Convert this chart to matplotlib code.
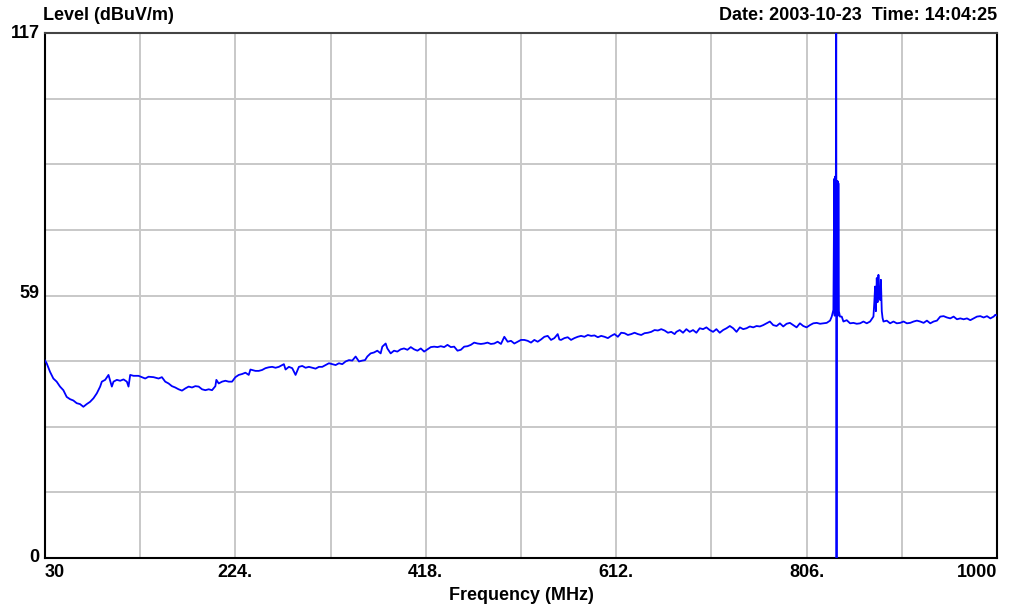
import matplotlib
matplotlib.use("Agg")
import matplotlib.pyplot as plt
import numpy as np

# scan trace: frequency (MHz) / level (dBuV/m)
freq_low = [30.0, 31.7, 35.1, 38.5, 41.9, 45.3, 48.7, 52.1, 55.5, 58.9, 62.3, 65.7, 69.1,
            72.5, 75.9, 79.4, 82.8, 86.2, 87.9, 91.3, 94.7, 98.1, 99.8, 103.2, 106.6,
            110.0, 113.4, 115.1, 116.8, 120.2, 125.3, 128.7, 132.1, 135.5, 140.6, 145.7,
            149.1, 152.5, 155.9, 159.3, 162.7, 166.1, 169.6, 173.0, 176.4, 179.8, 183.2,
            186.6, 190.0, 193.4, 196.8, 200.2, 203.6, 204.6, 207.0, 210.4, 213.8, 217.2,
            220.6, 224.0, 227.4, 230.8, 234.2, 237.6, 239.3, 244.4, 247.8, 251.2, 254.6,
            258.0, 261.5, 264.9, 268.3, 271.7, 273.4, 275.1, 278.5, 281.9, 285.3, 288.7,
            292.1, 295.5, 298.9, 302.3, 305.7, 309.1, 312.5, 315.9, 319.3, 322.7, 326.1,
            329.5, 332.9, 336.3, 339.7, 343.1, 346.5, 349.9, 353.4, 356.1]
level_low = [44.0, 43.4, 41.5, 40.0, 39.3, 38.2, 37.4, 35.9, 35.4, 35.1, 34.5, 34.3, 33.7,
             34.3, 34.8, 35.6, 36.7, 38.2, 39.3, 39.7, 40.8, 38.2, 39.3, 39.7, 39.5,
             39.8, 39.3, 38.2, 40.8, 40.6, 40.6, 40.3, 40.0, 40.4, 40.3, 40.0,
             40.3, 39.3, 38.9, 38.3, 38.0, 37.6, 37.3, 37.8, 38.2, 38.0, 38.3,
             38.2, 37.6, 37.4, 37.6, 37.4, 38.3, 39.7, 38.9, 39.3, 39.5, 39.3,
             39.3, 40.3, 40.8, 41.0, 41.3, 40.8, 42.0, 41.7, 41.7, 41.9, 42.3,
             42.5, 42.6, 42.4, 42.6, 43.0, 43.2, 42.0, 42.6, 42.3, 40.8, 42.6,
             42.8, 42.4, 42.6, 42.4, 42.2, 42.6, 42.6, 43.0, 43.4, 43.2, 43.0,
             43.4, 43.2, 43.8, 44.1, 44.0, 44.9, 43.8, 44.0, 44.1]

freq_mid = [358.4, 361.8, 365.2, 368.6, 372.0, 373.7, 377.1, 378.8, 382.2, 385.6, 389.0,
            392.4, 395.8, 399.3, 402.7, 406.1, 409.5, 412.9, 416.3, 419.7, 423.1, 426.5,
            429.9, 433.3, 436.7, 440.1, 443.5, 446.9, 450.3, 453.7, 457.1, 460.5, 463.9,
            467.3, 470.7, 474.1, 477.5, 480.9, 484.3, 487.7, 491.2, 494.6, 498.0, 501.4,
            504.8, 508.2, 511.6, 515.0, 518.4, 521.8, 525.2, 528.6, 532.0, 535.4, 538.8,
            542.2, 545.6, 549.0, 552.4, 554.1, 555.8, 559.2, 562.6, 566.0, 569.4, 572.8,
            576.2, 579.6, 583.1, 586.5, 589.9, 593.3, 596.7, 600.1, 603.5, 606.9, 610.3,
            613.7, 617.1, 620.5, 623.9, 627.3, 630.7, 634.1, 637.5, 640.9, 644.3, 647.7,
            651.1, 654.5, 657.9, 661.3, 664.7, 668.1, 671.5]
level_mid = [44.9, 45.6, 45.8, 46.2, 45.6, 47.1, 47.8, 46.7, 45.6, 46.2, 46.0,
             46.5, 46.7, 46.4, 47.0, 46.5, 46.2, 46.7, 46.0, 46.5, 47.0, 47.1,
             47.0, 47.2, 47.0, 47.5, 47.0, 47.1, 46.2, 46.4, 47.1, 47.2, 47.5,
             48.0, 47.8, 47.7, 47.8, 48.0, 47.7, 47.8, 48.2, 47.7, 49.3, 48.2,
             48.4, 47.8, 48.2, 48.6, 48.6, 48.4, 48.0, 48.6, 48.2, 48.7, 49.3,
             49.5, 48.6, 49.0, 49.9, 48.7, 48.6, 49.0, 49.2, 48.6, 49.0, 49.3,
             49.5, 49.3, 49.7, 49.5, 49.6, 49.2, 49.5, 49.3, 49.0, 49.5, 49.9,
             49.3, 50.2, 50.1, 49.7, 49.9, 50.2, 49.9, 49.7, 50.1, 50.2, 50.4,
             50.8, 50.7, 51.0, 50.7, 50.2, 50.4, 49.9]

freq_high = [673.3, 676.7, 680.1, 683.5, 686.9, 690.3, 693.7, 697.1, 700.5, 703.9, 707.3,
             710.7, 714.1, 717.5, 720.9, 724.4, 727.8, 731.2, 734.6, 738.0, 741.4, 744.8,
             748.2, 751.6, 755.0, 758.4, 761.8, 765.2, 768.6, 772.0, 775.4, 778.8, 782.2,
             785.6, 789.0, 792.4, 795.8, 799.2, 802.6, 806.0, 809.4, 812.8, 816.3, 819.7,
             823.1, 826.5, 829.9, 831.6, 833.3]
level_high = [50.4, 50.8, 50.2, 51.0, 50.4, 50.8, 50.2, 51.2, 51.0, 51.4, 50.8,
              50.4, 51.0, 50.2, 50.8, 51.2, 51.7, 51.2, 50.4, 51.4, 51.0, 51.2,
              51.6, 51.4, 51.7, 51.6, 51.9, 52.3, 52.7, 51.9, 51.7, 52.3, 51.6,
              52.2, 52.4, 51.9, 51.4, 52.3, 51.7, 51.4, 51.9, 52.3, 52.4, 52.2,
              52.3, 52.4, 52.9, 53.8, 55.3]

# strong carrier near 836 MHz (goes off scale)
freq_carrier = [834.2, 834.6, 835.0, 835.4, 835.8, 836.2, 836.5, 836.8, 837.2, 837.6,
                838.0, 838.4, 838.9, 840.0]
level_carrier = [84.5, 54.0, 85.0, 56.0, 84.0, 125.0, 0.0, 84.0, 55.0, 84.0,
                 54.0, 83.5, 55.0, 53.8]

freq_top = [841.8, 843.5, 846.9, 850.3, 853.7, 857.1, 860.5, 863.9, 867.3, 870.7, 874.1,
            875.0, 875.8, 876.6, 877.5, 878.3, 879.2, 880.0, 880.9, 881.7, 882.6, 883.4,
            884.3, 887.7, 891.1, 894.5, 897.9, 901.3, 904.8, 908.2, 911.6, 915.0, 918.4,
            921.8, 925.2, 928.6, 932.0, 935.4, 938.8, 942.2, 945.6, 949.0, 952.4, 955.8,
            959.2, 962.6, 966.0, 969.4, 972.8, 976.2, 979.6, 983.0, 986.4, 989.8, 993.2,
            996.6, 998.3, 1000.0]
level_top = [53.8, 52.7, 53.0, 52.3, 52.4, 52.2, 52.3, 52.7, 52.3, 52.7, 53.8,
             57.0, 60.5, 55.0, 62.4, 57.0, 63.1, 58.2, 57.5, 62.0, 55.0, 53.5,
             52.7, 52.9, 52.3, 52.7, 52.3, 52.4, 52.7, 52.3, 52.4, 52.7, 52.9,
             52.7, 52.4, 52.9, 52.3, 52.7, 52.9, 53.8, 53.9, 53.6, 53.4, 53.8,
             53.2, 53.4, 53.2, 53.4, 53.0, 53.4, 53.8, 53.9, 53.6, 53.9, 53.4,
             53.8, 54.2, 54.0]

x_ticks = [30, 224, 418, 612, 806, 1000]
x_labels = ["30", "224.", "418.", "612.", "806.", "1000"]
y_ticks = [0, 59, 117]
y_labels = ["0", "59", "117"]

freq = freq_low + freq_mid + freq_high + freq_carrier + freq_top
level = level_low + level_mid + level_high + level_carrier + level_top

plt.rcParams['font.family'] = ['Liberation Sans', 'DejaVu Sans']

fig = plt.figure(figsize=(10.13, 6.10), dpi=100)
ax = fig.add_axes([45 / 1013, 1 - 558 / 610, 952 / 1013, 525 / 610])

ax.plot(freq, level, color='#0000ff', linewidth=1.3, zorder=3)

ax.set_xlim(30, 1000)
ax.set_ylim(0, 117)

# grid: 10 columns, 8 rows
for gx in np.linspace(30, 1000, 11)[1:-1]:
    ax.axvline(gx, color='#c8c8c8', linewidth=1.4, zorder=1)
for gy in np.linspace(0, 117, 9)[1:-1]:
    ax.axhline(gy, color='#c8c8c8', linewidth=1.4, zorder=1)

ax.set_xticks([])
ax.set_yticks([])
for sp in ax.spines.values():
    sp.set_linewidth(1.5)
    sp.set_color('black')
ax.spines['top'].set_color('#444444')

fs = 13
for v, lab in zip(x_ticks, x_labels):
    ha = 'center'
    if v == x_ticks[0]:
        ha = 'left'
    elif v == x_ticks[-1]:
        ha = 'right'
    ax.annotate(lab, (v, 0), xytext=(0, -4), textcoords='offset points',
                ha=ha, va='top', fontsize=fs, fontweight='bold')
for v, lab in zip(y_ticks, y_labels):
    ax.annotate(lab, (30, v), xytext=(-4, 0), textcoords='offset points',
                ha='right', va='center', fontsize=fs, fontweight='bold')

fig.text(43 / 1013, 1 - 15 / 610, "Level (dBuV/m)", ha='left', va='center',
         fontsize=fs, fontweight='bold')
fig.text(997 / 1013, 1 - 15 / 610, "Date: 2003-10-23  Time: 14:04:25", ha='right',
         va='center', fontsize=fs, fontweight='bold')
fig.text(521 / 1013, 1 - 596 / 610, "Frequency (MHz)", ha='center', va='center',
         fontsize=fs, fontweight='bold')

fig.savefig("out.png", dpi=100)
